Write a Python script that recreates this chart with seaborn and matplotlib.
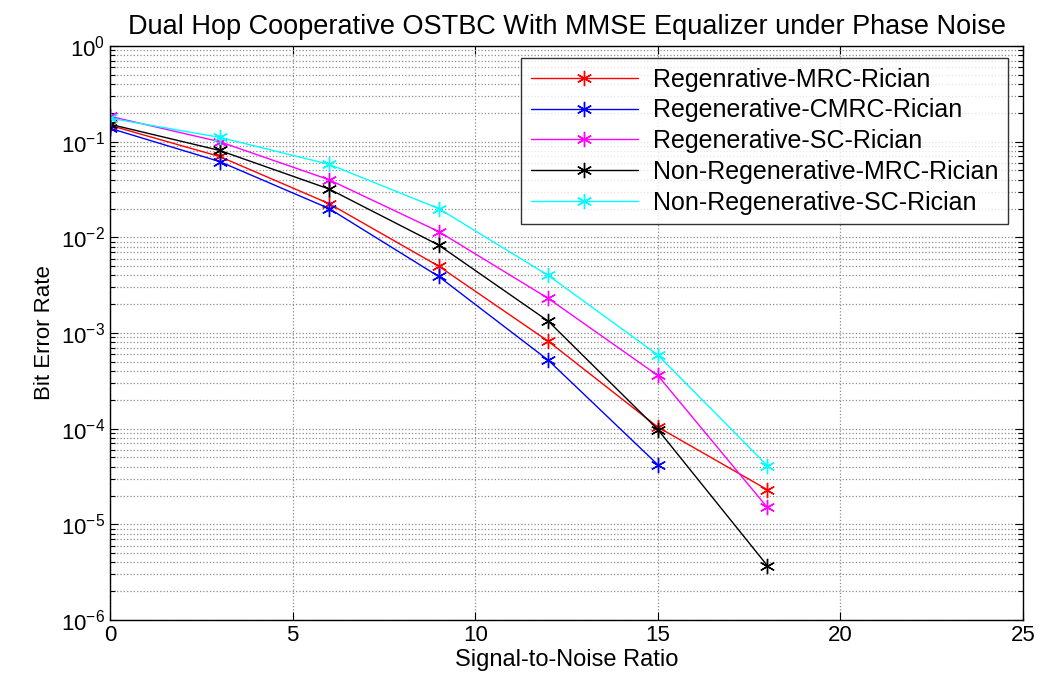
import numpy as np
import pandas as pd
import matplotlib
matplotlib.use("Agg")
import matplotlib.pyplot as plt
import seaborn as sns
from matplotlib.ticker import FixedLocator, NullFormatter, LogFormatterSciNotation

# ---- data ----
snr = [0, 3, 6, 9, 12, 15, 18]
snr_cmrc = [0, 3, 6, 9, 12, 15]
labels = [
    "Regenrative-MRC-Rician",
    "Regenerative-CMRC-Rician",
    "Regenerative-SC-Rician",
    "Non-Regenerative-MRC-Rician",
    "Non-Regenerative-SC-Rician",
]
ber_reg_mrc = [0.148, 0.070, 0.0225, 0.0050, 0.00082, 1.04e-4, 2.3e-5]
ber_reg_cmrc = [0.138, 0.062, 0.020, 0.0039, 0.00052, 4.2e-5]
ber_reg_sc = [0.184, 0.100, 0.040, 0.0115, 0.0023, 3.6e-4, 1.5e-5]
ber_nonreg_mrc = [0.152, 0.081, 0.032, 0.0083, 0.00133, 9.8e-5, 3.7e-6]
ber_nonreg_sc = [0.176, 0.111, 0.058, 0.020, 0.0040, 5.9e-4, 4.1e-5]
colors = ["#ff0000", "#0000ff", "#ff00ff", "#000000", "#00ffff"]
x_ticks = [0, 5, 10, 15, 20, 25]
y_ticks = [1e-6, 1e-5, 1e-4, 1e-3, 1e-2, 1e-1, 1e0]

series = [
    (snr, ber_reg_mrc),
    (snr_cmrc, ber_reg_cmrc),
    (snr, ber_reg_sc),
    (snr, ber_nonreg_mrc),
    (snr, ber_nonreg_sc),
]

sns.set_theme(style="white")
plt.rcParams["font.family"] = ["Liberation Sans", "DejaVu Sans"]
plt.rcParams["mathtext.fontset"] = "custom"
plt.rcParams["mathtext.rm"] = "Liberation Sans"
plt.rcParams["mathtext.it"] = "Liberation Sans"
plt.rcParams["text.color"] = "black"
plt.rcParams["axes.labelcolor"] = "black"

fig = plt.figure(figsize=(10.40, 6.82), dpi=100)
ax = fig.add_axes([110 / 1040, 1 - 620 / 682, (1023 - 110) / 1040, (620 - 46) / 682])

asterisk = (6, 2, 0)
for (xs, ys), lab, c in zip(series, labels, colors):
    df = pd.DataFrame({"snr": xs, "ber": ys})
    sns.lineplot(data=df, x="snr", y="ber", ax=ax, color=c, label=lab,
                 marker=asterisk, markersize=11, markeredgecolor=c,
                 markeredgewidth=1.0, linewidth=1.0)

ax.set_yscale("log")
ax.set_xlim(0, 25)
ax.set_ylim(1e-6, 1)
ax.xaxis.set_major_locator(FixedLocator(x_ticks))
ax.yaxis.set_major_locator(FixedLocator(y_ticks))
ax.yaxis.set_major_formatter(LogFormatterSciNotation())
minor = [m * 10.0 ** e for e in range(-6, 0) for m in range(2, 10)]
ax.yaxis.set_minor_locator(FixedLocator(minor))
ax.yaxis.set_minor_formatter(NullFormatter())

ax.grid(True, which="major", color="#8c8c8c", linestyle=":", linewidth=0.9)
ax.grid(True, which="minor", axis="y", color="#8c8c8c", linestyle=":", linewidth=0.9)

ax.tick_params(which="both", direction="in", top=True, right=True,
               bottom=True, left=True, colors="black", labelsize=16)
ax.tick_params(which="major", length=6, width=0.8)
ax.tick_params(which="minor", length=3.5, width=0.8)
for s in ax.spines.values():
    s.set_color("black")
    s.set_linewidth(1.0)

ax.set_xlabel("Signal-to-Noise Ratio", fontsize=17, labelpad=2)
ax.set_ylabel("Bit Error Rate", fontsize=16, labelpad=4)
ax.set_title("Dual Hop Cooperative OSTBC With MMSE Equalizer under Phase Noise",
             fontsize=19.5, pad=9)

leg = ax.legend(loc="upper right", bbox_to_anchor=(0.9836, 0.979), borderaxespad=0,
                fontsize=18, frameon=True, fancybox=False, handlelength=4.3,
                labelspacing=0.27, borderpad=0.38, handletextpad=0.6)
leg.get_frame().set_edgecolor("black")
leg.get_frame().set_linewidth(1.0)

fig.savefig("out.png", dpi=100)
